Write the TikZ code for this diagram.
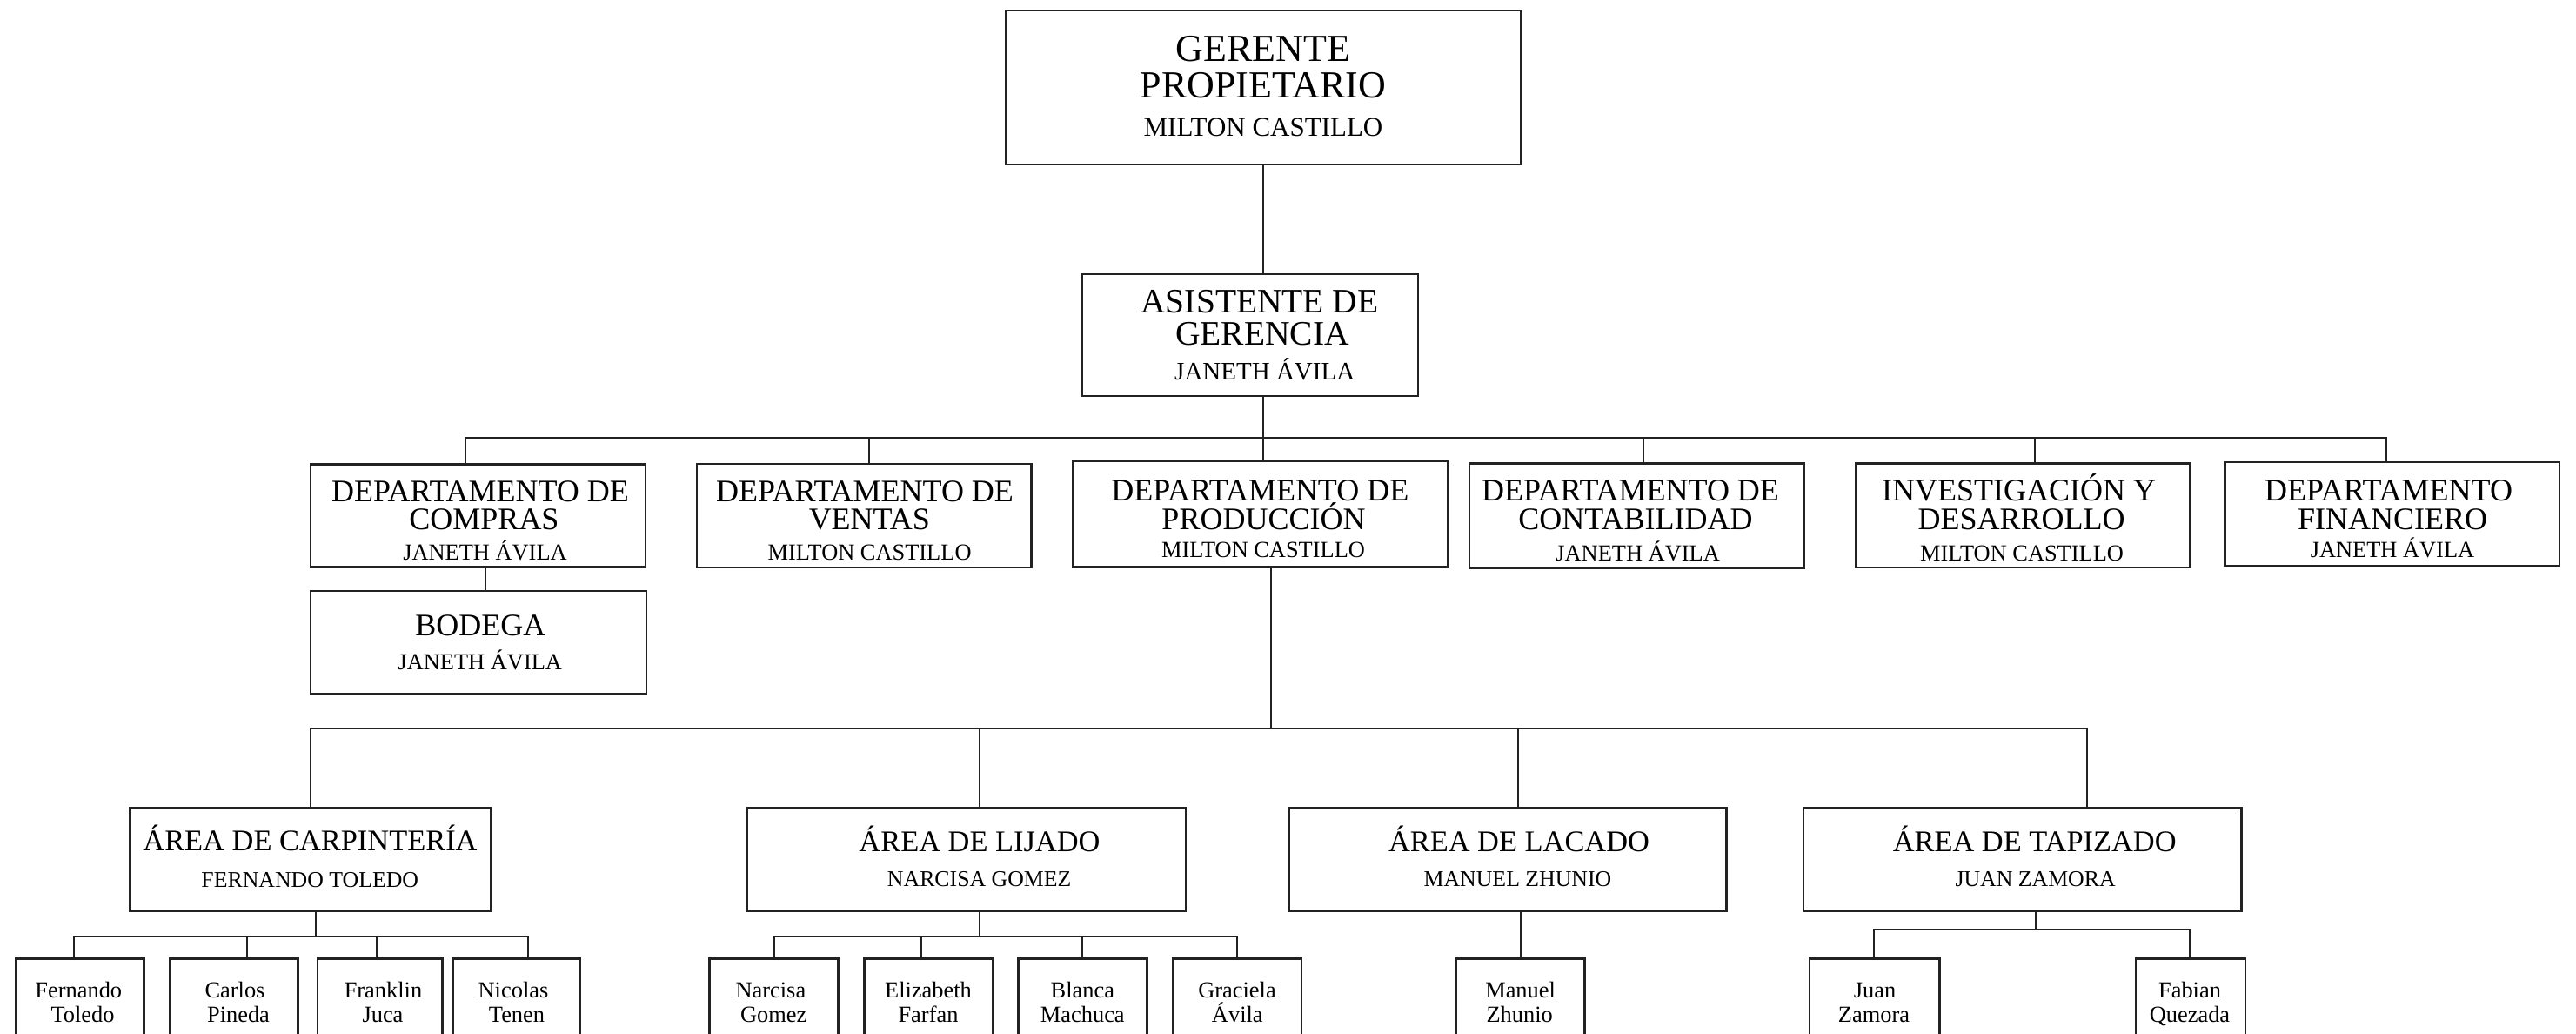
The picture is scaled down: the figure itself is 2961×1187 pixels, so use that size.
\documentclass[tikz,border=0pt]{standalone}
\usepackage{fontspec}
\setmainfont{Liberation Serif}
\definecolor{ink}{HTML}{222222}
\tikzset{
  orgbox/.style={draw=ink, line width=2.6pt, rectangle, inner sep=0pt, outer sep=0pt},
  link/.style={draw=ink, line width=2pt},
  lbl/.style={anchor=base, inner sep=0pt, text=black},
}
% box from its corners: name, x1, y1, x2, y2
\newcommand\orgrect[5]{\node[orgbox, minimum width={(#4)-(#2)}, minimum height={(#5)-(#3)}] (#1) at ({((#2)+(#4))/2},{((#3)+(#5))/2}) {};}
% one text line on its baseline: name, x, y, size, text
\newcommand\orgtext[5]{\node[lbl, font={\fontsize{#4}{#4}\selectfont}] (#1) at (#2,#3) {#5};}
\begin{document}
\begin{tikzpicture}[x=1pt,y=-1pt]
\useasboundingbox (0,0) rectangle (2961,1187);
\begin{scope}
\clip (0,0) rectangle (2961,1187);

% ---------- boxes ----------
\orgrect{ger}{1156}{12}{1748}{189}
\orgrect{asi}{1244}{315}{1630}{455}
\orgrect{com}{357}{533.3}{742}{651.5}
\orgrect{bod}{357}{679}{743}{797.7}
\orgrect{ven}{801}{533}{1185.6}{652}
\orgrect{pro}{1233}{530}{1664}{651.7}
\orgrect{con}{1689}{532.7}{2074}{652.3}
\orgrect{inv}{2133}{532.7}{2517}{652}
\orgrect{fin}{2557.3}{531}{2942}{650}
\orgrect{car}{149.5}{928}{564.5}{1047}
\orgrect{lij}{859}{928}{1363}{1047}
\orgrect{lac}{1481.5}{928}{1984.5}{1047}
\orgrect{tap}{2073}{928}{2576.6}{1047}
% staff boxes (run past the lower edge)
\orgrect{f1}{18}{1101.7}{165.3}{1240}
\orgrect{f2}{195}{1101.7}{342.4}{1240}
\orgrect{f3}{365}{1101.7}{508.5}{1240}
\orgrect{f4}{520.5}{1101.7}{666.5}{1240}
\orgrect{n1}{815.7}{1101.7}{963.7}{1240}
\orgrect{n2}{993.3}{1101.7}{1141.2}{1240}
\orgrect{n3}{1170.3}{1101.7}{1318.3}{1240}
\orgrect{n4}{1347.9}{1101.7}{1495.8}{1240}
\orgrect{m1}{1673.8}{1101.7}{1821.4}{1240}
\orgrect{t1}{2080}{1101.7}{2229.3}{1240}
\orgrect{t2}{2455}{1101.7}{2581}{1240}

% ---------- texts ----------
\orgtext{gerA}{1452}{70}{44}{GERENTE}
\orgtext{gerB}{1452}{112.7}{44}{PROPIETARIO}
\orgtext{gerC}{1452}{156.7}{31}{MILTON CASTILLO}

\orgtext{asiA}{1448}{359.3}{39.5}{ASISTENTE DE}
\orgtext{asiB}{1451}{396}{39.5}{GERENCIA}
\orgtext{asiC}{1453.7}{436}{29}{JANETH ÁVILA}

\orgtext{comA}{552}{576}{36}{DEPARTAMENTO DE}
\orgtext{comB}{556.5}{608.3}{36}{COMPRAS}
\orgtext{comC}{557.5}{643.3}{26.4}{JANETH ÁVILA}

\orgtext{bodA}{552.4}{730}{36}{BODEGA}
\orgtext{bodB}{551.8}{769.3}{26.4}{JANETH ÁVILA}

\orgtext{venA}{994}{576}{36}{DEPARTAMENTO DE}
\orgtext{venB}{999.3}{608.3}{36}{VENTAS}
\orgtext{venC}{999.6}{643}{26.4}{MILTON CASTILLO}

\orgtext{proA}{1448.3}{575.7}{36}{DEPARTAMENTO DE}
\orgtext{proB}{1452.5}{608.3}{36}{PRODUCCIÓN}
\orgtext{proC}{1452}{640}{26.4}{MILTON CASTILLO}

\orgtext{conA}{1874}{575}{36}{DEPARTAMENTO DE}
\orgtext{conB}{1880}{608.3}{36}{CONTABILIDAD}
\orgtext{conC}{1882.6}{644}{26.4}{JANETH ÁVILA}

\orgtext{invA}{2320.7}{575}{36}{INVESTIGACIÓN Y}
\orgtext{invB}{2323.6}{608.3}{36}{DESARROLLO}
\orgtext{invC}{2324}{644}{26.4}{MILTON CASTILLO}

\orgtext{finA}{2745.5}{575}{36}{DEPARTAMENTO}
\orgtext{finB}{2750}{608.3}{36}{FINANCIERO}
\orgtext{finC}{2750}{640}{26.4}{JANETH ÁVILA}

\orgtext{carA}{356.5}{977.3}{34.4}{ÁREA DE CARPINTERÍA}
\orgtext{carB}{356.3}{1019}{25.8}{FERNANDO TOLEDO}
\orgtext{lijA}{1126}{978.3}{34.4}{ÁREA DE LIJADO}
\orgtext{lijB}{1125.7}{1018.3}{25.8}{NARCISA GOMEZ}
\orgtext{lacA}{1746}{978}{34.4}{ÁREA DE LACADO}
\orgtext{lacB}{1744.5}{1018.5}{25.8}{MANUEL ZHUNIO}
\orgtext{tapA}{2338.7}{978}{34.4}{ÁREA DE TAPIZADO}
\orgtext{tapB}{2339.6}{1018.5}{25.8}{JUAN ZAMORA}

\orgtext{f1a}{90.3}{1146}{26.4}{Fernando}
\orgtext{f1b}{95}{1174}{26.4}{Toledo}
\orgtext{f2a}{270}{1146}{26.4}{Carlos}
\orgtext{f2b}{274}{1174}{26.4}{Pineda}
\orgtext{f3a}{440.5}{1146}{26.4}{Franklin}
\orgtext{f3b}{440}{1174}{26.4}{Juca}
\orgtext{f4a}{590}{1146}{26.4}{Nicolas}
\orgtext{f4b}{594}{1174}{26.4}{Tenen}
\orgtext{n1a}{885.9}{1146}{26.4}{Narcisa}
\orgtext{n1b}{889.2}{1174}{26.4}{Gomez}
\orgtext{n2a}{1067}{1146}{26.4}{Elizabeth}
\orgtext{n2b}{1067}{1174}{26.4}{Farfan}
\orgtext{n3a}{1244.3}{1146}{26.4}{Blanca}
\orgtext{n3b}{1244.3}{1174}{26.4}{Machuca}
\orgtext{n4a}{1422}{1146}{26.4}{Graciela}
\orgtext{n4b}{1422.3}{1174}{26.4}{Ávila}
\orgtext{m1a}{1747.6}{1146}{26.4}{Manuel}
\orgtext{m1b}{1746.7}{1174}{26.4}{Zhunio}
\orgtext{t1a}{2155}{1146}{26.4}{Juan}
\orgtext{t1b}{2154}{1174}{26.4}{Zamora}
\orgtext{t2a}{2517}{1146}{26.4}{Fabian}
\orgtext{t2b}{2517}{1174}{26.4}{Quezada}

% ---------- connectors ----------
% main trunk
\coordinate (trunk) at (1452,300);
\draw[link] (trunk |- ger.south) -- (trunk |- asi.north);
\draw[link] (trunk |- asi.south) -- (trunk |- pro.north);

% department bus
\coordinate (b3L) at (535,503.3);
\coordinate (b3R) at (2742.7,503.3);
\draw[link] (b3L |- com.north) -- (b3L) -- (b3R) -- (b3R |- fin.north);
\coordinate (d3v) at (999,503.3);
\coordinate (d3c) at (1888.5,503.3);
\coordinate (d3i) at (2339,503.3);
\draw[link] (d3v) -- (d3v |- ven.north);
\draw[link] (d3c) -- (d3c |- con.north);
\draw[link] (d3i) -- (d3i |- inv.north);
\coordinate (dcb) at (558,665);
\draw[link] (dcb |- com.south) -- (dcb |- bod.north);

% production areas bus
\coordinate (b4P) at (1461.3,836.7);
\coordinate (b4L) at (356.7,836.7);
\coordinate (b4R) at (2398.6,836.7);
\draw[link] (b4P |- pro.south) -- (b4P);
\draw[link] (b4L |- car.north) -- (b4L) -- (b4R) -- (b4R |- tap.north);
\coordinate (d4l) at (1126.4,836.7);
\coordinate (d4a) at (1745,836.7);
\draw[link] (d4l) -- (d4l |- lij.north);
\draw[link] (d4a) -- (d4a |- lac.north);

% carpentry staff
\coordinate (c5) at (362.5,1076);
\coordinate (c5L) at (84.8,1076);
\coordinate (c5R) at (607.1,1076);
\coordinate (c5b) at (283.5,1076);
\coordinate (c5c) at (433,1076);
\draw[link] (c5 |- car.south) -- (c5);
\draw[link] (c5L |- f1.north) -- (c5L) -- (c5R) -- (c5R |- f4.north);
\draw[link] (c5b) -- (c5b |- f2.north);
\draw[link] (c5c) -- (c5c |- f3.north);

% sanding staff
\coordinate (l5) at (1126.4,1076);
\coordinate (l5L) at (889.7,1076);
\coordinate (l5R) at (1421.8,1076);
\coordinate (l5b) at (1059,1076);
\coordinate (l5c) at (1244.3,1076);
\draw[link] (l5 |- lij.south) -- (l5);
\draw[link] (l5L |- n1.north) -- (l5L) -- (l5R) -- (l5R |- n4.north);
\draw[link] (l5b) -- (l5b |- n2.north);
\draw[link] (l5c) -- (l5c |- n3.north);

% lacquering staff
\coordinate (a5) at (1747.6,1080);
\draw[link] (a5 |- lac.south) -- (a5 |- m1.north);

% upholstery staff
\coordinate (u5) at (2339.6,1067.7);
\coordinate (u5L) at (2153.8,1067.7);
\coordinate (u5R) at (2516.7,1067.7);
\draw[link] (u5 |- tap.south) -- (u5);
\draw[link] (u5L |- t1.north) -- (u5L) -- (u5R) -- (u5R |- t2.north);

\end{scope}
\end{tikzpicture}
\end{document}
